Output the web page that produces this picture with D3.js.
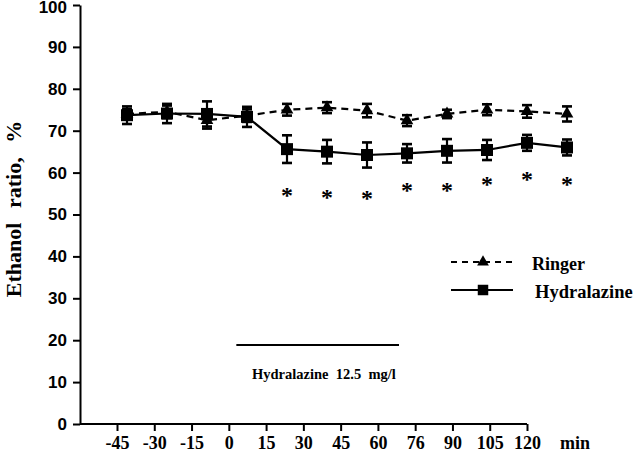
<!DOCTYPE html>
<html>
<head>
<meta charset="utf-8">
<script src="https://cdn.jsdelivr.net/npm/d3@7"></script>
<style>
  html, body { margin: 0; padding: 0; background: #fff; }
  svg { display: block; }
</style>
</head>
<body>
<svg id="chart" width="640" height="452"></svg>
<script>
// ---- data ----
const times = [-45, -30, -15, 0, 15, 30, 45, 60, 75, 90, 105, 120];
const tickLabels = ["-45", "-30", "-15", "0", "15", "30", "45", "60", "76", "90", "105", "120"];
const yTicks = [0, 10, 20, 30, 40, 50, 60, 70, 80, 90, 100];
const ringerMean = [74.0, 74.5, 72.5, 73.6, 75.0, 75.5, 74.8, 72.4, 74.0, 75.0, 74.6, 74.0];
const ringerSE   = [1.2, 1.5, 2.0, 1.5, 1.4, 1.3, 1.6, 1.3, 1.0, 1.3, 1.5, 1.8];
const hydraMean  = [73.7, 74.1, 74.0, 73.3, 65.6, 65.0, 64.2, 64.6, 65.2, 65.4, 67.1, 66.0];
const hydraSE    = [2.1, 2.3, 3.0, 2.4, 3.3, 2.8, 3.0, 2.2, 2.8, 2.4, 1.9, 1.9];
const sigTimes   = [15, 30, 45, 60, 75, 90, 105, 120];
const sigLevels  = [55.4, 55.1, 54.7, 56.7, 56.7, 58.1, 59.4, 58.1];
const treatment  = [-4, 57];
const treatmentLabel = "Hydralazine  12.5  mg/l";
const seriesNames = ["Ringer", "Hydralazine"];

const serif = "'Liberation Serif', 'Times New Roman', serif";
const sans = "'Liberation Sans', Arial, sans-serif";

const svg = d3.select("#chart");

// scales
const y = d3.scaleLinear().domain([0, 100]).range([424, 5]);
const xAxisScale = d3.scaleLinear().domain([-45, 120]).range([117, 527]);
const xData = d3.scaleLinear().domain([-45, 120]).range([127, 567]);
const axisX = 80;

// y axis
const yAxis = d3.axisLeft(y).tickValues(yTicks).tickSize(7).tickPadding(6).tickSizeOuter(0);
const gy = svg.append("g").attr("transform", `translate(${axisX},0)`).call(yAxis);
gy.select(".domain").attr("stroke", "#000").attr("stroke-width", 2);
gy.selectAll(".tick line").attr("stroke", "#000").attr("stroke-width", 2);
gy.selectAll(".tick text").attr("font-family", sans).attr("font-weight", "bold")
  .attr("font-size", 17).attr("fill", "#000")
  .attr("dy", d => d === 100 ? "0.42em" : "0.32em");

// x axis
const xAxis = d3.axisBottom(xAxisScale).tickValues(times)
  .tickFormat((d, i) => tickLabels[i]).tickSize(7).tickPadding(5).tickSizeOuter(0);
const gx = svg.append("g").attr("transform", `translate(0,${y(0)})`).call(xAxis);
gx.select(".domain").remove();
gx.append("line").attr("x1", axisX).attr("x2", xAxisScale(120)).attr("y1", 0).attr("y2", 0)
  .attr("stroke", "#000").attr("stroke-width", 2);
gx.selectAll(".tick line").attr("stroke", "#000").attr("stroke-width", 2);
gx.selectAll(".tick text").attr("font-family", serif).attr("font-weight", "bold")
  .attr("font-size", 18).attr("fill", "#000");
svg.append("text").attr("x", 560).attr("y", y(0) + 25)
  .attr("font-family", serif).attr("font-weight", "bold").attr("font-size", 18)
  .text("min");

// y label
svg.append("text")
  .attr("transform", `translate(21,209) rotate(-90)`)
  .attr("text-anchor", "middle")
  .attr("font-family", serif).attr("font-weight", "bold").attr("font-size", 22)
  .attr("word-spacing", 9)
  .text("Ethanol ratio, %");

// series
function drawSeries(mean, se, dashed, symbol, size) {
  const pts = times.map((t, i) => ({ t, m: mean[i], e: se[i] }));
  const line = d3.line().x(d => xData(d.t)).y(d => y(d.m));
  svg.append("path").datum(pts).attr("d", line).attr("fill", "none")
    .attr("stroke", "#000").attr("stroke-width", 2.2)
    .attr("stroke-dasharray", dashed ? "7,5" : null);
  const g = svg.append("g");
  pts.forEach(d => {
    const cx = xData(d.t);
    const y1 = y(d.m + d.e), y2 = y(d.m - d.e);
    g.append("line").attr("x1", cx).attr("x2", cx).attr("y1", y1).attr("y2", y2)
      .attr("stroke", "#000").attr("stroke-width", 2.2);
    [y1, y2].forEach(yy => g.append("line").attr("x1", cx - 5).attr("x2", cx + 5)
      .attr("y1", yy).attr("y2", yy).attr("stroke", "#000").attr("stroke-width", 2.6));
    g.append("path").attr("d", d3.symbol().type(symbol).size(size)())
      .attr("transform", `translate(${cx},${y(d.m)})`).attr("fill", "#000");
  });
}
drawSeries(ringerMean, ringerSE, true, d3.symbolTriangle, 70);
drawSeries(hydraMean, hydraSE, false, d3.symbolSquare, 144);

// significance asterisks
svg.append("g").selectAll("text").data(sigTimes).join("text")
  .attr("x", d => xData(d))
  .attr("y", (d, i) => y(sigLevels[i]) + 11.5)
  .attr("text-anchor", "middle")
  .attr("font-family", serif).attr("font-weight", "bold").attr("font-size", 24)
  .text("*");

// treatment bar
svg.append("line").attr("x1", xData(treatment[0])).attr("x2", xData(treatment[1]))
  .attr("y1", 345).attr("y2", 345).attr("stroke", "#000").attr("stroke-width", 2);
svg.append("text").attr("x", 252).attr("y", 379)
  .attr("font-family", serif).attr("font-weight", "bold").attr("font-size", 14.5)
  .attr("xml:space", "preserve").style("white-space", "pre")
  .text(treatmentLabel);

// legend
const leg = svg.append("g");
const legRows = [
  { name: seriesNames[0], y: 262, dashed: true, sym: d3.symbolTriangle, size: 60, fs: 18 },
  { name: seriesNames[1], y: 290, dashed: false, sym: d3.symbolSquare, size: 110, fs: 18.5 }
];
legRows.forEach(r => {
  leg.append("line").attr("x1", 451).attr("x2", 513).attr("y1", r.y).attr("y2", r.y)
    .attr("stroke", "#000").attr("stroke-width", 2)
    .attr("stroke-dasharray", r.dashed ? "6,5" : null);
  leg.append("path").attr("d", d3.symbol().type(r.sym).size(r.size)())
    .attr("transform", `translate(483,${r.y})`).attr("fill", "#000");
  leg.append("text").attr("x", r.dashed ? 532 : 535).attr("y", r.y + 8)
    .attr("font-family", serif).attr("font-weight", "bold").attr("font-size", r.fs)
    .text(r.name);
});
</script>
</body>
</html>
